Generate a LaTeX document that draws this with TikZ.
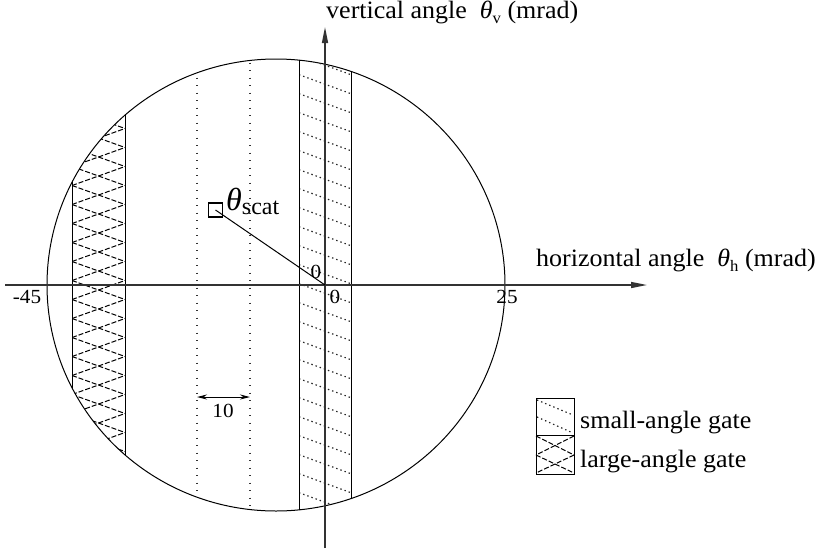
\documentclass[tikz,border=0pt]{standalone}
\usepackage{fontspec}
\setmainfont{Liberation Serif}
\usetikzlibrary{arrows.meta}
\begin{document}
\begin{tikzpicture}[x=1pt,y=-1pt,
  axis/.style={line width=1.4pt, black!80},
  edge/.style={line width=1pt},
  lbl/.style={font=\fontsize{25}{28}\selectfont, inner sep=0pt, xscale=1.04},
  num/.style={font=\fontsize{20}{22}\selectfont, inner sep=0pt, xscale=1.06},
  dotline/.style={line width=1.4pt, dash pattern=on 1.2pt off 6.3pt, black!80},
  shatch/.style={line width=1.2pt, dash pattern=on 1.4pt off 3pt, black!85},
  lhatch/.style={line width=1pt, dash pattern=on 5pt off 2pt, black},
  tip/.style={-{Triangle[length=16pt,width=6pt]}},
]
\useasboundingbox (0,0) rectangle (824,552);
\coordinate (O) at (325,285);
\coordinate (hs) at (5,285);
\coordinate (he) at (647,285);
\coordinate (vs) at (325,548);
\coordinate (ve) at (325,27);
\coordinate (C) at (276,285);

% circle
\draw[line width=1pt] (C) circle[x radius=229pt, y radius=226pt];

\begin{scope}
  \clip (C) circle[x radius=229pt, y radius=226pt];
  % large-angle band hatch
  \begin{scope}
    \clip (72,0) rectangle (125,552);
    \foreach \k in {-16,...,16} {
      \draw[lhatch] (72,{299.5+19*\k}) -- (125,{318.5+19*\k});
      \draw[lhatch] (72,{299.5+19*\k}) -- (125,{280.5+19*\k});
    }
  \end{scope}
  % small-angle band hatch
  \begin{scope}
    \clip (299,0) rectangle (351,552);
    \foreach \k in {-6,...,24} {
      \draw[shatch] (299,{112.7+19*\k}) -- (351,{131.7+19*\k});
    }
  \end{scope}
  % band edges
  \draw[edge] (72,0) -- (72,552);
  \draw[edge] (125,0) -- (125,552);
  \draw[edge] (299,0) -- (299,552);
  \draw[edge] (351,0) -- (351,552);
  % dotted guide lines
  \draw[dotline] (197,40) -- (197,552);
  \draw[dotline] (250,40) -- (250,552);
\end{scope}

% axes
\draw[axis,tip] (hs) -- (he);
\draw[axis,tip] (vs) -- (ve);

% axis labels
\node[lbl, anchor=base west] (vlab) at (326,18) {vertical angle \ {\itshape θ}\raisebox{-0.2em}{\fontsize{16}{16}\selectfont v} (mrad)};
\node[lbl, anchor=base west] (hlab) at (536,266) {horizontal angle \ {\itshape θ}\raisebox{-0.2em}{\fontsize{16}{16}\selectfont h} (mrad)};

% tick labels
\node[num] (m45) at (27,297) {-45};
\node[num] (p25) at (507,297) {25};
\node[num] (z1) at (316,272) {0};
\node[num] (z2) at (335,297) {0};

% scattering angle
\node[draw, line width=1.1pt, minimum size=14pt, inner sep=0pt] (sbox) at (215.5,210) {};
\draw[line width=1pt] (sbox.center) -- (O);
\node[inner sep=0pt, anchor=base west] (slab) at (226,210) {\fontsize{32}{32}\selectfont\itshape θ\raisebox{-0.15em}{\upshape\fontsize{24}{24}\selectfont scat}};

% 10 mrad arrow
\draw[line width=1pt, {Stealth[length=10pt,width=5pt]}-{Stealth[length=10pt,width=5pt]}] (197,397) -- (250,397);
\node[num] (ten) at (223,411) {10};

% legend
\draw[shatch] (537,400) -- (573,415);
\draw[shatch] (537,417) -- (573,433);
\draw[lhatch] (536,436) -- (574,455);
\draw[lhatch] (574,436) -- (536,455);
\draw[lhatch] (536,455) -- (574,473);
\draw[lhatch] (574,455) -- (536,473);
\draw[line width=1pt] (536,398) rectangle (574,435);
\draw[line width=1pt] (536,435) rectangle (574,474);
\node[lbl, anchor=base west] (leg1) at (580,428) {small-angle gate};
\node[lbl, anchor=base west] (leg2) at (580,467) {large-angle gate};
\end{tikzpicture}
\end{document}
